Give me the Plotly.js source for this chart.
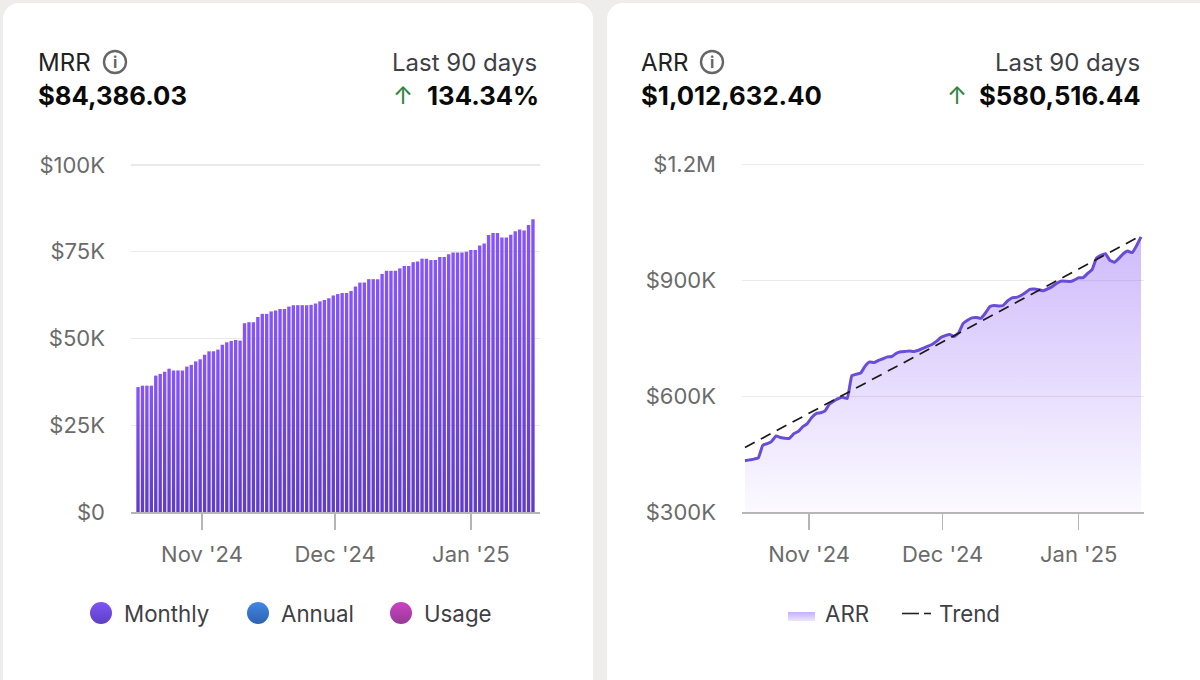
<!DOCTYPE html>
<html>
<head>
<meta charset="utf-8">
<script src="https://cdn.plot.ly/plotly-3.0.1.min.js"></script>
<style>
html,body{margin:0;padding:0;width:1200px;height:680px;overflow:hidden;background:#efedeb;font-family:Inter,sans-serif}
.card{position:absolute;top:3px;height:700px;background:#fff;border-radius:16px}
#c1{left:3px;width:590px}
#c2{left:607px;width:620px}
#plot{position:absolute;left:0;top:0;width:1200px;height:680px}
</style>
</head>
<body>
<div class="card" id="c1"></div>
<div class="card" id="c2"></div>
<div id="plot"></div>
<script>
const startDate = '2024-10-18';
const mrrK = [
36.0,36.4,36.4,36.4,39.3,39.8,40.4,41.3,40.8,40.8,
40.8,41.9,42.4,43.4,44.0,45.3,46.3,46.3,46.8,48.2,
48.9,49.3,49.6,49.4,54.4,54.7,54.7,56.2,57.1,57.1,
57.8,58.1,58.5,58.5,59.2,59.6,59.6,59.6,59.6,59.7,
60.1,60.7,61.1,61.6,62.4,62.8,63.1,63.1,63.7,65.0,
66.1,66.1,67.1,67.1,67.1,68.6,69.5,69.5,69.5,70.2,
70.9,70.9,72.0,72.2,73.0,73.0,72.6,72.6,73.5,73.5,
74.3,74.8,74.8,74.8,75.0,75.5,75.5,76.8,77.4,79.8,
80.4,80.4,79.1,79.1,79.9,80.9,81.4,81.1,82.7,84.386];
const arrK = [
433,435,437,440,473,477,483,497,493,491,
491,503,509,521,529,545,555,557,562,580,
588,594,597,594,653,657,660,678,689,687,
693,697,702,703,711,715,716,717,716,719,
724,729,734,742,752,757,760,755,764,788,
797,803,804,802,815,832,835,834,835,847,
855,856,861,868,877,878,876,873,878,884,
892,898,898,897,901,907,907,918,928,958,
965,969,952,947,957,969,976,972,990,1012.632];
const trendK = [467, 1016];
const tickDates = ['2024-11-01 10:00','2024-12-01 10:00','2025-01-01 00:00'];
const tickLabels = ["Nov '24","Dec '24","Jan '25"];
const mrrTicks = [0,25000,50000,75000,100000];
const mrrTickLabels = ['$0','$25K','$50K','$75K','$100K'];
const arrTicks = [300000,600000,900000,1200000];
const arrTickLabels = ['$300K','$600K','$900K','$1.2M'];

const dates = mrrK.map((_,i)=>{
  const d = new Date(startDate+'T00:00:00Z');
  d.setUTCDate(d.getUTCDate()+i);
  return d.toISOString().slice(0,10);
});
const X = p=>p/1200, Y = p=>1-p/680;
const GREY='#6b6b6b', DARK='#3f3f46';
const F='Inter, sans-serif';

const traces = [
 {type:'bar',name:'Monthly',x:dates,y:mrrK.map(v=>v*1000),xaxis:'x',yaxis:'y',
  marker:{color:'#7c4ff0',line:{width:0}},showlegend:false},
 {type:'scatter',mode:'lines',name:'ARR',x:dates,y:arrK.map(v=>v*1000),xaxis:'x2',yaxis:'y2',
  line:{color:'#6a4dd6',width:3,shape:'spline',smoothing:0.3},
  fill:'tozeroy',
  fillgradient:{type:'vertical',start:300000,stop:1012632,
    colorscale:[[0,'rgba(140,92,246,0.03)'],[1,'rgba(140,92,246,0.42)']]},
  showlegend:false},
 {type:'scatter',mode:'lines',name:'Trend',x:[dates[0],dates[dates.length-1]],y:trendK.map(v=>v*1000),xaxis:'x2',yaxis:'y2',
  line:{color:'#1a1a1a',width:1.7,dash:'11px,7px'},showlegend:false}
];

function xax(l,r,range){return {
  domain:[X(l),X(r)],type:'date',range:range,tickmode:'array',tickvals:tickDates,ticktext:tickLabels,
  ticks:'outside',ticklen:16,tickwidth:1.5,tickcolor:'#b5b5b5',showgrid:false,zeroline:false,
  showline:true,linecolor:'#b5b5b5',linewidth:1.5,ticklabelstandoff:6,
  tickfont:{family:F,size:22,color:GREY},fixedrange:true};}
function yax(range,vals,labs,anchor){return {
  domain:[Y(512),Y(160)],range:range,tickmode:'array',tickvals:vals,ticktext:labs,anchor:anchor,
  ticks:'',showgrid:true,gridcolor:'#e9e9e9',gridwidth:1.4,zeroline:false,showline:false,
  ticklabelstandoff:25,tickfont:{family:F,size:22,color:GREY},fixedrange:true};}

function txt(text,x,y,anchor,size,color,bold){
  return {text:bold?'<b>'+text+'</b>':text,xref:'paper',yref:'paper',x:X(x),y:Y(y),xanchor:anchor,yanchor:'middle',
    showarrow:false,borderpad:0,font:{family:F,size:size,color:color}};
}
const annotations=[
 txt('MRR',37,62,'left',24,'#222'),
 txt('$84,386.03',37,96,'left',25.7,'#0a0a0a',true),
 txt('Last 90 days',538,62,'right',24,DARK),
 txt('134.34%',540,96,'right',25.7,'#0a0a0a',true),
 txt('↑',403,96,'center',24,'#2e8540'),
 txt('ARR',640,62,'left',24,'#222'),
 txt('$1,012,632.40',640,96,'left',25.7,'#0a0a0a',true),
 txt('Last 90 days',1141,62,'right',24,DARK),
 txt('$580,516.44',1142,96,'right',25.7,'#0a0a0a',true),
 txt('↑',957,96,'center',24,'#2e8540'),
 txt('i',115,62,'center',16,'#666',true),
 txt('i',712,62,'center',16,'#666',true),
 txt('Monthly',123,613,'left',22.3,DARK),
 txt('Annual',280,613,'left',22.3,DARK),
 txt('Usage',423,613,'left',22.3,DARK),
 txt('ARR',824,613,'left',22.3,DARK),
 txt('Trend',938,613,'left',22.3,DARK)
];
function circ(cx,cy,r,fill,line,w){return {type:'circle',xref:'paper',yref:'paper',x0:X(cx-r),x1:X(cx+r),y0:Y(cy-r),y1:Y(cy+r),
  fillcolor:fill,line:{color:line||fill,width:w||0}};}
const shapes=[
 circ(115,62,11,'rgba(0,0,0,0)','#666',2.4),
 circ(712,62,11,'rgba(0,0,0,0)','#666',2.4),
 circ(101,613,11,'#7c4ff0'),
 circ(258,613,11,'#3b7bd6'),
 circ(401,613,11,'#c23fb5'),
 {type:'rect',xref:'paper',yref:'paper',x0:X(788),x1:X(815),y0:Y(612),y1:Y(621),fillcolor:'#c9b8f8',line:{width:0}},
 {type:'line',xref:'paper',yref:'paper',x0:X(902),x1:X(919),y0:Y(613.5),y1:Y(613.5),line:{color:'#222',width:1.6}},
 {type:'line',xref:'paper',yref:'paper',x0:X(924),x1:X(931),y0:Y(613.5),y1:Y(613.5),line:{color:'#222',width:1.6}}
];

const layout={
 width:1200,height:680,margin:{l:0,r:0,t:0,b:0},
 paper_bgcolor:'rgba(0,0,0,0)',plot_bgcolor:'rgba(0,0,0,0)',
 font:{family:F},showlegend:false,bargap:0.24,
 xaxis:xax(131,540,['2024-10-16 10:00','2025-01-16 14:00']),
 yaxis:yax([0,101437],mrrTicks,mrrTickLabels,'x'),
 xaxis2:xax(742,1144,['2024-10-17 08:00','2025-01-15 16:00']),
 yaxis2:yax([300000,1212000],arrTicks,arrTickLabels,'x2'),
 annotations:annotations,shapes:shapes
};

function addGrad(defs,id,a,b){
  const ns='http://www.w3.org/2000/svg';
  const g=document.createElementNS(ns,'linearGradient');
  g.setAttribute('id',id);g.setAttribute('x1','0');g.setAttribute('y1','0');g.setAttribute('x2','0');g.setAttribute('y2','1');
  [[0,a],[1,b]].forEach(([o,c])=>{const s=document.createElementNS(ns,'stop');s.setAttribute('offset',o);s.setAttribute('stop-color',c);g.appendChild(s);});
  defs.appendChild(g);
}
Plotly.newPlot('plot',traces,layout,{staticPlot:true,displayModeBar:false}).then(gd=>{
  const svg=gd.querySelector('svg.main-svg');
  const ns='http://www.w3.org/2000/svg';
  const defs=document.createElementNS(ns,'defs');svg.insertBefore(defs,svg.firstChild);
  addGrad(defs,'gBar','#8655fb','#5f3cc8');
  addGrad(defs,'gM','#7e55f5','#5f3fc4');
  addGrad(defs,'gA','#3f88e6','#2f62ad');
  addGrad(defs,'gU','#cc42c4','#963a96');
  addGrad(defs,'gS','#c4b0f7','#ece6fc');
  gd.querySelectorAll('.bars .point path').forEach(p=>{p.style.fill='url(#gBar)';});
  const map={'rgb(124, 79, 240)':'gM','rgb(59, 123, 214)':'gA','rgb(194, 63, 181)':'gU','rgb(201, 184, 248)':'gS'};
  gd.querySelectorAll('.shapelayer path').forEach(p=>{
    const m=map[p.style.fill]; if(m) p.style.fill='url(#'+m+')';
  });
});
</script>
</body>
</html>
